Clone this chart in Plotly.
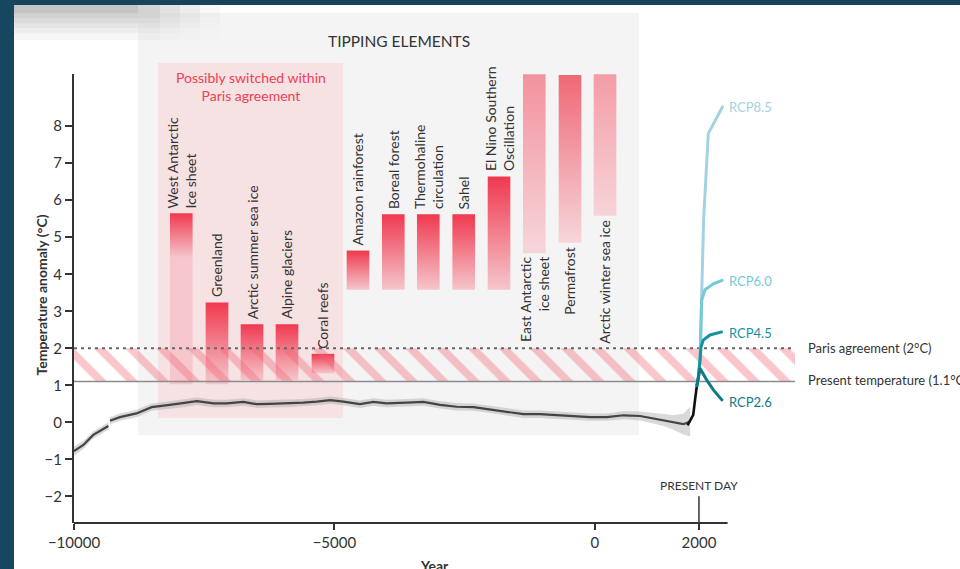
import plotly.graph_objects as go

# ---------------- data ----------------
# Holocene proxy reconstruction (two segments) and 1-sigma band
proxy_years_a = [-10000, -9820, -9630, -9470, -9340]
proxy_temp_a = [-0.78, -0.61, -0.34, -0.21, -0.10]
proxy_sd_a = [0.12, 0.11, 0.10, 0.10, 0.10]

proxy_years_b = [-9310, -9120, -8800, -8510, -8160, -7900, -7640, -7320, -7070, -6750,
                 -6490, -6240, -5920, -5600, -5340, -5080, -4830, -4510, -4250, -4000,
                 -3610, -3290, -2970, -2650, -2330, -2010, -1690, -1370, -1050, -730,
                 -410, -90, 230, 550, 870, 1120, 1320, 1510, 1700, 1830]
proxy_temp_b = [0.04, 0.14, 0.24, 0.41, 0.47, 0.51, 0.57, 0.51, 0.51, 0.55,
                0.49, 0.50, 0.51, 0.53, 0.56, 0.60, 0.56, 0.49, 0.55, 0.51,
                0.53, 0.55, 0.47, 0.42, 0.41, 0.35, 0.29, 0.22, 0.22, 0.19,
                0.17, 0.14, 0.14, 0.19, 0.17, 0.11, 0.06, 0.00, -0.05, 0.02]
proxy_sd_b = [0.10, 0.10, 0.10, 0.10, 0.10, 0.10, 0.10, 0.10, 0.10, 0.10,
              0.10, 0.10, 0.10, 0.10, 0.10, 0.10, 0.10, 0.10, 0.10, 0.10,
              0.10, 0.10, 0.10, 0.10, 0.10, 0.10, 0.10, 0.10, 0.10, 0.10,
              0.10, 0.10, 0.10, 0.11, 0.12, 0.14, 0.16, 0.20, 0.28, 0.40]

instr_years = [1780, 1830, 1890, 1924, 1957]
instr_temp = [-0.08, 0.04, 0.20, 0.60, 0.96]

# RCP projections
rcp_names = ["RCP8.5", "RCP6.0", "RCP4.5", "RCP2.6"]
rcp_years = [
    [1957, 1990, 2020, 2040, 2090, 2179, 2463],
    [1957, 1990, 2020, 2045, 2052, 2116, 2275, 2467],
    [1957, 1990, 2020, 2040, 2083, 2212, 2456],
    [1957, 1990, 2020, 2150, 2280, 2456],
]
rcp_temp = [
    [0.96, 1.23, 1.68, 3.00, 5.50, 7.80, 8.55],
    [0.96, 1.23, 1.68, 2.80, 3.30, 3.58, 3.74, 3.85],
    [0.96, 1.23, 1.68, 2.04, 2.22, 2.36, 2.45],
    [0.96, 1.23, 1.46, 1.14, 0.87, 0.58],
]

# Tipping elements (threshold ranges, °C)
tip_names = ["West Antarctic<br>Ice sheet", "Greenland", "Arctic summer sea ice",
             "Alpine glaciers", "Coral reefs", "Amazon rainforest", "Boreal forest",
             "Thermohaline<br>circulation", "Sahel", "El Nino Southern<br>Oscillation",
             "East Antarctic<br>ice sheet", "Permafrost", "Arctic winter sea ice"]
tip_year = [-7940, -7254, -6582, -5910, -5219, -4547, -3869, -3197, -2517, -1839,
            -1162, -476, 196]
tip_low = [1.03, 1.03, 1.14, 1.14, 1.32, 3.58, 3.58, 3.58, 3.58, 3.58, 4.57, 4.85, 5.58]
tip_high = [5.65, 3.24, 2.65, 2.65, 1.85, 4.64, 5.62, 5.62, 5.62, 6.64, 9.40, 9.38, 9.40]
tip_fade = [4.45, 1.03, 1.14, 1.14, 1.32, 3.58, 3.58, 3.58, 3.58, 3.58, 4.57, 4.85, 5.58]

paris_level = 2.0
present_level = 1.1
present_year = 2000

panel_years = [-8770, 850]       # "Tipping elements" panel
panel_temp = [-0.34, 11.06]
paris_box_years = [-8387, -4835]  # "Possibly switched within Paris agreement"
paris_box_temp = [0.12, 9.71]

x_tickvals = [-10000, -5000, 0, 2000]
x_ticktext = ["\u221210000", "\u22125000", "0", "2000"]
y_tickvals = [-2, -1, 0, 1, 2, 3, 4, 5, 6, 7, 8]
y_ticktext = ["\u22122", "\u22121", "0", "1", "2", "3", "4", "5", "6", "7", "8"]

# ---------------- styles / geometry ----------------
W, H = 960, 569
ML, MR, MT, MB = 74, 165, 74, 46
X0, X1 = -10000, 3844
Y0, Y1 = -2.72, 9.41
AXIS_END = 2550
BAR_W = 435
FONT = "Lato"
TXT = "#333333"

bar_top_colors = ["#f0394f"] * 10 + ["#f3929e", "#f06876", "#f49ca6"]
bar_bottom_colors = ["#f5c6cc"] * 10 + ["#f6d6da", "#f6d6da", "#f6d4d8"]
rcp_colors = ["#a3d3df", "#74cbd7", "#16929f", "#0f7a86"]


def xp(year):
    return (year - X0) / (X1 - X0)


def yp(t):
    return (t - Y0) / (Y1 - Y0)


def px_x(px):
    return (px - ML) / (W - ML - MR)


def px_y(py):
    return (H - MB - py) / (H - MT - MB)


fig = go.Figure()

# tipping bars with vertical gradient
for i in range(len(tip_names)):
    c = tip_year[i]
    lo, hi = tip_low[i], tip_high[i]
    fig.add_trace(go.Scatter(
        x=[c - BAR_W / 2, c + BAR_W / 2, c + BAR_W / 2, c - BAR_W / 2, c - BAR_W / 2],
        y=[lo, lo, hi, hi, lo],
        mode="lines", line=dict(width=0), fill="toself",
        fillgradient=dict(type="vertical",
                          colorscale=[[0, bar_bottom_colors[i]], [1, bar_top_colors[i]]],
                          start=tip_fade[i], stop=hi),
        hoverinfo="skip", showlegend=False))

# hatched band between present temperature and Paris target
fig.add_trace(go.Scatter(
    x=[X0, X1, X1, X0, X0],
    y=[present_level, present_level, paris_level, paris_level, present_level],
    mode="lines", line=dict(width=0), fill="toself",
    fillcolor="rgba(0,0,0,0)",
    fillpattern=dict(shape="\\", fgcolor="#f06070", fgopacity=0.36,
                     bgcolor="rgba(0,0,0,0)", size=22, solidity=0.36),
    hoverinfo="skip", showlegend=False))

# reference lines
fig.add_trace(go.Scatter(x=[X0, X1], y=[paris_level, paris_level], mode="lines",
                         line=dict(color="#666666", width=2, dash="3px,4px"),
                         hoverinfo="skip", showlegend=False))
fig.add_trace(go.Scatter(x=[X0, X1], y=[present_level, present_level], mode="lines",
                         line=dict(color="#8c8c8c", width=1.5),
                         hoverinfo="skip", showlegend=False))

# uncertainty bands
for yrs, tmp, sd in [(proxy_years_a, proxy_temp_a, proxy_sd_a),
                     (proxy_years_b, proxy_temp_b, proxy_sd_b)]:
    up = [t + s for t, s in zip(tmp, sd)]
    dn = [t - s for t, s in zip(tmp, sd)]
    fig.add_trace(go.Scatter(x=yrs + yrs[::-1], y=up + dn[::-1], mode="lines",
                             line=dict(width=0), fill="toself",
                             fillcolor="rgba(170,170,170,0.45)",
                             hoverinfo="skip", showlegend=False))

# temperature lines
for yrs, tmp in [(proxy_years_a, proxy_temp_a), (proxy_years_b, proxy_temp_b)]:
    fig.add_trace(go.Scatter(x=yrs, y=tmp, mode="lines",
                             line=dict(color="#444444", width=2.2),
                             hoverinfo="skip", showlegend=False))
fig.add_trace(go.Scatter(x=instr_years, y=instr_temp, mode="lines",
                         line=dict(color="#111111", width=2.6),
                         hoverinfo="skip", showlegend=False))

# RCP projections
for name, yrs, tmp, col in zip(rcp_names, rcp_years, rcp_temp, rcp_colors):
    fig.add_trace(go.Scatter(x=yrs, y=tmp, mode="lines",
                             line=dict(color=col, width=3),
                             hoverinfo="skip", showlegend=False))

shapes = []
# background panels
shapes.append(dict(type="rect", xref="paper", yref="paper", layer="below",
                   x0=xp(panel_years[0]), x1=xp(panel_years[1]),
                   y0=yp(panel_temp[0]), y1=yp(panel_temp[1]),
                   fillcolor="#f4f4f4", line=dict(width=0)))
shapes.append(dict(type="rect", xref="paper", yref="paper", layer="below",
                   x0=xp(paris_box_years[0]), x1=xp(paris_box_years[1]),
                   y0=yp(paris_box_temp[0]), y1=yp(paris_box_temp[1]),
                   fillcolor="#f6e1e3", line=dict(width=0)))
# x axis line (stops after present day)
shapes.append(dict(type="line", xref="paper", yref="paper",
                   x0=0, x1=xp(AXIS_END), y0=0, y1=0,
                   line=dict(color=TXT, width=2)))
# present-day marker
shapes.append(dict(type="line", xref="x", yref="y",
                   x0=present_year, x1=present_year, y0=Y0, y1=-2.0,
                   line=dict(color=TXT, width=1.5)))

# slide frame: shadow + dark border
rows = [(5, 13.3, 0.23), (13.3, 18.3, 0.18), (18.3, 23.3, 0.14), (23.3, 28.3, 0.10),
        (28.3, 33.3, 0.065), (33.3, 40, 0.035)]
cols = [(14, 138, 1.0), (138, 160, 0.75), (160, 180, 0.5), (180, 200, 0.3), (200, 220, 0.12)]
for (ya, yb, a) in rows:
    for (xa, xb, m) in cols:
        shapes.append(dict(type="rect", xref="paper", yref="paper", layer="above",
                           x0=px_x(xa), x1=px_x(xb), y0=px_y(yb), y1=px_y(ya),
                           fillcolor="rgba(0,0,0,%.3f)" % (a * m), line=dict(width=0)))
shapes.append(dict(type="rect", xref="paper", yref="paper", layer="above",
                   x0=px_x(0), x1=px_x(W), y0=px_y(5), y1=px_y(0),
                   fillcolor="#17445b", line=dict(width=0)))
shapes.append(dict(type="rect", xref="paper", yref="paper", layer="above",
                   x0=px_x(0), x1=px_x(14), y0=px_y(H), y1=px_y(0),
                   fillcolor="#17475f", line=dict(width=0)))

annotations = []
# tipping element labels
for i, name in enumerate(tip_names):
    above = i < 10
    annotations.append(dict(
        x=tip_year[i], y=tip_high[i] if above else tip_low[i], xref="x", yref="y",
        text=name, textangle=-90, showarrow=False,
        xanchor="center", yanchor="bottom" if above else "top",
        yshift=3 if above else -2, align="left" if above else "right",
        font=dict(family=FONT, size=14, color=TXT)))

annotations.append(dict(x=-3760, y=px_y(30), xref="x", yref="paper",
                        text="TIPPING ELEMENTS", showarrow=False,
                        font=dict(family=FONT, size=15.5, color=TXT)))
annotations.append(dict(x=-6611, y=9.08, xref="x", yref="y",
                        text="Possibly switched within<br>Paris agreement", showarrow=False,
                        font=dict(family=FONT, size=14, color="#ee3f56")))

# RCP labels
for name, yrs, tmp, col in zip(rcp_names, rcp_years, rcp_temp, rcp_colors):
    annotations.append(dict(x=yrs[-1], y=tmp[-1], xref="x", yref="y", text=name,
                            showarrow=False, xanchor="left", xshift=4, yshift=-1,
                            font=dict(family=FONT, size=13, color=col)))

annotations.append(dict(x=px_x(806), y=paris_level, xref="paper", yref="y",
                        text="Paris agreement (2°C)", showarrow=False, xanchor="left",
                        font=dict(family=FONT, size=13, color=TXT)))
annotations.append(dict(x=px_x(806), y=present_level, xref="paper", yref="y",
                        text="Present temperature (1.1°C)", showarrow=False,
                        xanchor="left", yanchor="middle", yshift=2,
                        font=dict(family=FONT, size=13, color=TXT)))
annotations.append(dict(x=present_year, y=-2.0, xref="x", yref="y",
                        text="PRESENT DAY", showarrow=False, yanchor="bottom", yshift=1,
                        font=dict(family=FONT, size=12, color=TXT)))
annotations.append(dict(x=px_x(30), y=px_y(295), xref="paper", yref="paper",
                        text="<b>Temperature anomaly (°C)</b>", textangle=-90,
                        showarrow=False, font=dict(family=FONT, size=14, color=TXT)))
annotations.append(dict(x=0.5, y=px_y(555), xref="paper", yref="paper",
                        text="<b>Year</b>", showarrow=False, yanchor="top",
                        font=dict(family=FONT, size=14, color=TXT)))

fig.update_layout(
    width=W, height=H,
    margin=dict(l=ML, r=MR, t=MT, b=MB, pad=0),
    paper_bgcolor="white", plot_bgcolor="rgba(0,0,0,0)",
    font=dict(family=FONT, size=14, color=TXT),
    showlegend=False,
    shapes=shapes, annotations=annotations,
    xaxis=dict(range=[X0, X1], showgrid=False, zeroline=False, showline=False,
               tickmode="array", tickvals=x_tickvals, ticktext=x_ticktext,
               ticks="outside", ticklen=6, tickwidth=1.5, tickcolor=TXT,
               tickfont=dict(family=FONT, size=15, color=TXT)),
    yaxis=dict(range=[Y0, Y1], showgrid=False, zeroline=False, showline=True,
               linecolor=TXT, linewidth=2,
               tickmode="array", tickvals=y_tickvals, ticktext=y_ticktext,
               ticks="outside", ticklen=7, tickwidth=1.5, tickcolor=TXT,
               tickfont=dict(family=FONT, size=15, color=TXT)),
)

fig.write_html(
    "out.html",
    config={"displayModeBar": False},
    post_script="document.body.style.margin='0';document.body.style.overflow='hidden';",
)
